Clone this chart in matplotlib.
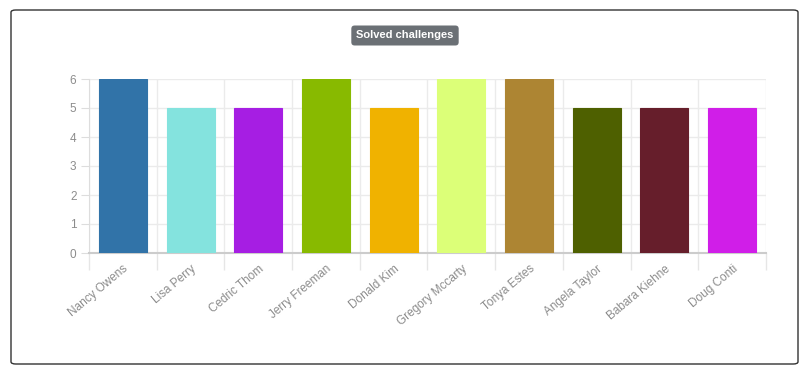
import matplotlib.pyplot as plt
from matplotlib.patches import FancyBboxPatch

plt.rcParams['font.family'] = ['Liberation Sans', 'DejaVu Sans']

names = ['Nancy Owens', 'Lisa Perry', 'Cedric Thom', 'Jerry Freeman', 'Donald Kim',
         'Gregory Mccarty', 'Tonya Estes', 'Angela Taylor', 'Babara Kiehne', 'Doug Conti']
solved = [6, 5, 5, 6, 5, 6, 6, 5, 5, 5]
colors = ['#3173a8', '#84e3de', '#a61ee3', '#88ba00', '#f0b200',
          '#dcff78', '#ad8533', '#4e6000', '#661e2b', '#d01ee8']

fig = plt.figure(figsize=(8.03, 3.74), dpi=100)

# outer card border
fig.patches.append(FancyBboxPatch((11 / 803, 10 / 374), 787 / 803, 354 / 374,
                                  boxstyle='round,pad=0,rounding_size=0.006',
                                  transform=fig.transFigure, fill=False,
                                  edgecolor='#333333', linewidth=1))

ax = fig.add_axes([89 / 803, 121 / 374, 677 / 803, 174 / 374])
x = range(len(names))
ax.bar(x, solved, width=0.71, color=colors, edgecolor=colors, linewidth=0.8, zorder=3)

ax.set_xlim(-0.5, len(names) - 0.5)
ax.set_ylim(0, 6)
ax.set_yticks(range(7))
ax.set_xticks([i + 0.5 for i in range(-1, len(names))], minor=True)
ax.set_xticks(list(x))
ax.set_xticklabels(names, rotation=40, ha='right', rotation_mode='anchor')
ax.tick_params(axis='x', which='major', length=0, pad=7, labelsize=8.5, labelcolor='#8c8c8c')
ax.tick_params(axis='x', which='minor', length=12, color='#e6e6e6', width=1)
ax.tick_params(axis='y', length=6, color='#dddddd', labelsize=8.5, labelcolor='#8c8c8c', pad=3)

ax.grid(True, axis='y', color='#ebebeb', linewidth=1, zorder=0)
ax.grid(True, axis='x', which='minor', color='#ebebeb', linewidth=1, zorder=0)
for side in ['top', 'right']:
    ax.spines[side].set_visible(False)
ax.spines['left'].set_color('#dddddd')
ax.spines['bottom'].set_color('#cccccc')
ax.spines['bottom'].set_linewidth(1.5)

fig.text(405 / 803, 1 - 35.5 / 374, 'Solved challenges', ha='center', va='center',
         fontsize=8, fontweight='bold', color='white',
         bbox=dict(boxstyle='round,pad=0.45,rounding_size=0.3', fc='#6b7075', ec='none'))

fig.savefig('out.png', dpi=100)
